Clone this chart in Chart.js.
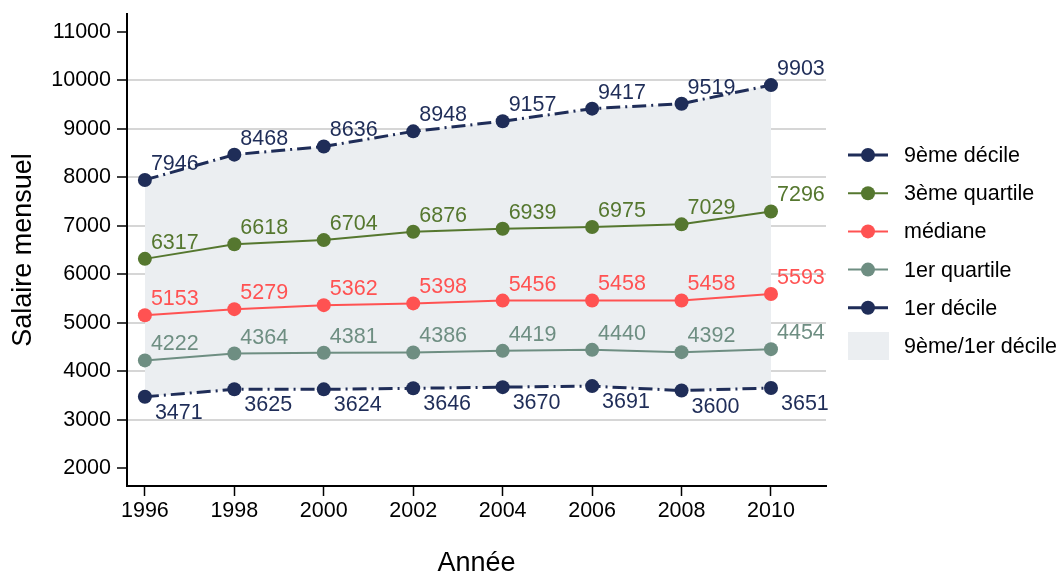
<!DOCTYPE html>
<html>
<head>
<meta charset="utf-8">
<script src="https://cdn.jsdelivr.net/npm/chart.js@4.4.1/dist/chart.umd.min.js"></script>
<style>
  body { margin: 0; background: #fff; }
</style>
</head>
<body>
<canvas id="myChart" width="1063" height="573"></canvas>
<script>
const years = [1996, 1998, 2000, 2002, 2004, 2006, 2008, 2010];
const decile9 = [7946, 8468, 8636, 8948, 9157, 9417, 9519, 9903];
const quartile3 = [6317, 6618, 6704, 6876, 6939, 6975, 7029, 7296];
const mediane = [5153, 5279, 5362, 5398, 5456, 5458, 5458, 5593];
const quartile1 = [4222, 4364, 4381, 4386, 4419, 4440, 4392, 4454];
const decile1 = [3471, 3625, 3624, 3646, 3670, 3691, 3600, 3651];

const yTicks = [2000, 3000, 4000, 5000, 6000, 7000, 8000, 9000, 10000, 11000];
const yGrid = [3000, 4000, 5000, 6000, 7000, 8000, 9000, 10000];
const xTicks = [1996, 1998, 2000, 2002, 2004, 2006, 2008, 2010];

const names = ["9ème décile", "3ème quartile", "médiane", "1er quartile", "1er décile", "9ème/1er décile"];

const navy = "#1f2d58";
const green = "#55772f";
const red = "#ff5252";
const teal = "#6e8e82";
const band = "#ebeef1";
const dashDot = [14, 5, 2, 5];

const FONT = "'Liberation Sans', Arial, Helvetica, sans-serif";
Chart.defaults.font.family = FONT;
Chart.defaults.color = "#000";

function points(values) {
  return years.map((yr, i) => ({ x: yr, y: values[i] }));
}

function lineSet(label, values, color, dashed) {
  return {
    label: label,
    data: points(values),
    borderColor: color,
    backgroundColor: color,
    borderWidth: dashed ? 3 : 2,
    borderDash: dashed ? dashDot : [],
    pointRadius: 7,
    pointHoverRadius: 7,
    pointBorderWidth: 0,
    pointBackgroundColor: color,
    tension: 0,
    fill: false,
  };
}

/* value labels next to each point */
const valueLabels = {
  id: "valueLabels",
  afterDatasetsDraw(chart) {
    const ctx = chart.ctx;
    ctx.save();
    ctx.font = "21.5px " + FONT;
    ctx.textAlign = "left";
    ctx.textBaseline = "alphabetic";
    for (let i = 0; i < 5; i++) {
      const ds = chart.data.datasets[i];
      const meta = chart.getDatasetMeta(i);
      ctx.fillStyle = ds.borderColor;
      meta.data.forEach((pt, j) => {
        const txt = String(ds.data[j].y);
        if (i === 4) {
          ctx.fillText(txt, pt.x + 10, pt.y + 22);
        } else {
          ctx.fillText(txt, pt.x + 6, pt.y - 10);
        }
      });
    }
    ctx.restore();
  },
};

/* legend on the right, line + marker samples */
const sideLegend = {
  id: "sideLegend",
  afterDraw(chart) {
    const ctx = chart.ctx;
    const x0 = chart.chartArea.right + 22;
    ctx.save();
    ctx.font = "21.5px " + FONT;
    ctx.textBaseline = "middle";
    ctx.textAlign = "left";
    chart.data.datasets.forEach((ds, i) => {
      const y = 155 + i * 38.2;
      if (i === 5) {
        ctx.fillStyle = ds.backgroundColor;
        ctx.fillRect(x0, y - 14, 41, 28);
      } else {
        ctx.strokeStyle = ds.borderColor;
        ctx.lineWidth = ds.borderWidth;
        ctx.setLineDash(ds.borderDash);
        ctx.beginPath();
        ctx.moveTo(x0, y);
        ctx.lineTo(x0 + 40, y);
        ctx.stroke();
        ctx.setLineDash([]);
        ctx.fillStyle = ds.borderColor;
        ctx.beginPath();
        ctx.arc(x0 + 20, y, 7, 0, Math.PI * 2);
        ctx.fill();
      }
      ctx.fillStyle = "#000";
      ctx.fillText(names[i], x0 + 56, y + 1);
    });
    ctx.restore();
  },
};

const ctx = document.getElementById("myChart").getContext("2d");
const myChart = new Chart(ctx, {
  type: "line",
  data: {
    datasets: [
      lineSet(names[0], decile9, navy, true),
      lineSet(names[1], quartile3, green, false),
      lineSet(names[2], mediane, red, false),
      lineSet(names[3], quartile1, teal, false),
      lineSet(names[4], decile1, navy, true),
      {
        label: names[5],
        data: points(decile9),
        borderWidth: 0,
        borderColor: "rgba(0,0,0,0)",
        backgroundColor: band,
        pointRadius: 0,
        pointHoverRadius: 0,
        tension: 0,
        fill: 4,
      },
    ],
  },
  options: {
    responsive: false,
    animation: false,
    devicePixelRatio: 1,
    layout: { padding: { top: 14, right: 237, left: 0, bottom: 0 } },
    plugins: {
      legend: { display: false },
      tooltip: { enabled: false },
      filler: { drawTime: "beforeDatasetsDraw" },
    },
    scales: {
      x: {
        type: "linear",
        min: 1995.6,
        max: 2011.23,
        afterBuildTicks: (axis) => {
          axis.ticks = xTicks.map((v) => ({ value: v }));
        },
        afterFit: (axis) => {
          axis.height = 87;
          axis.paddingLeft = 0;
          axis.paddingRight = 0;
        },
        ticks: {
          font: { size: 21.5 },
          padding: 2,
          maxRotation: 0,
          autoSkip: false,
          callback: (v) => String(v),
        },
        grid: {
          drawOnChartArea: false,
          tickLength: 10,
          tickColor: "#000",
          tickWidth: 1.5,
        },
        border: { color: "#000", width: 2 },
        title: {
          display: true,
          text: "Année",
          font: { size: 27, lineHeight: 0.7 },
          padding: { top: 0, bottom: 0 },
        },
      },
      y: {
        type: "linear",
        min: 1630,
        max: 11370,
        afterBuildTicks: (axis) => {
          axis.ticks = yTicks.map((v) => ({ value: v }));
        },
        afterFit: (axis) => {
          axis.width = 127;
          axis.paddingTop = 0;
          axis.paddingBottom = 0;
        },
        ticks: {
          font: { size: 21.5 },
          padding: 6,
          autoSkip: false,
          callback: (v) => String(v),
        },
        grid: {
          color: (c) => (c.tick && yGrid.includes(c.tick.value) ? "#d6d6d6" : "rgba(0,0,0,0)"),
          lineWidth: 2,
          tickLength: 10,
          tickColor: "#000",
          tickWidth: 1.5,
        },
        border: { color: "#000", width: 2 },
        title: {
          display: true,
          text: "Salaire mensuel",
          font: { size: 27, lineHeight: 1 },
          padding: { top: 10, bottom: 0 },
        },
      },
    },
  },
  plugins: [valueLabels, sideLegend],
});
</script>
</body>
</html>
